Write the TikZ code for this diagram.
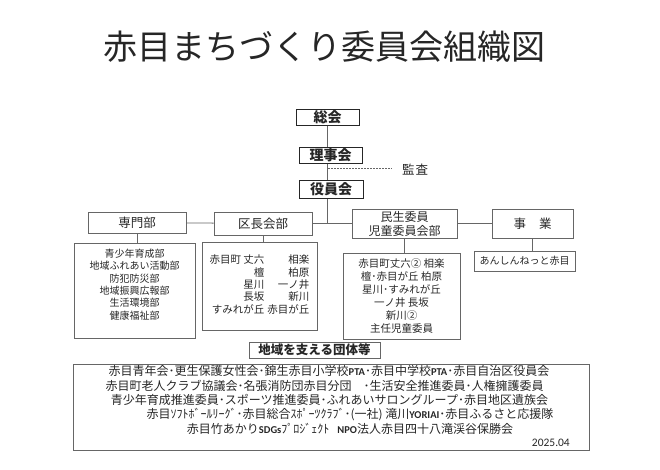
\documentclass[tikz,border=0pt]{standalone}
\usepackage{fontspec}
\setmainfont{Noto Sans CJK JP}
\newfontfamily\lat{Carlito}
\newcommand\fsz[2]{\fontsize{#1}{#2}\selectfont}
\newcommand\latb[1]{{\lat\bfseries\fsz{10.5}{14}#1}}

\begin{document}
\begin{tikzpicture}[
  x=1pt, y=-1pt,
  every node/.style={inner sep=0pt, text=black!85},
  topbox/.style={draw=black!85, line width=1pt, font=\fsz{14}{16}\bfseries},
  bukai/.style={draw=black!60, line width=0.8pt, align=center, font=\fsz{12.5}{14}},
  listbox/.style={draw=black!60, line width=0.8pt, align=center},
  conn/.style={draw=black!60, line width=0.8pt}
]
\useasboundingbox (0,0) rectangle (660,469);
\node (title) at (324,47) {\fsz{34}{40}赤目まちづくり委員会組織図};

% top of the tree
\node[topbox, minimum width=63, minimum height=16] (soukai) at (327.5,117) {総会};
\node[topbox, minimum width=63, minimum height=16] (rijikai) at (330.5,155) {理事会};
\node[topbox, minimum width=64, minimum height=18] (yakuinkai) at (331,189) {役員会};
\node[font=\fsz{12.5}{14}] (kansa) at (415,170) {監\hspace{1pt}査};
\coordinate (kansaj) at (328,168);
\draw[conn] (soukai.south) -- (soukai.south |- rijikai.north);
\draw[conn] (soukai.south |- rijikai.south) -- (soukai.south |- yakuinkai.north);
\draw[conn, dash pattern=on 1.5pt off 1.5pt] (kansaj) -- (392,168);

% bukai row
\node[bukai, minimum width=98, minimum height=21] (senmon) at (137,222.5) {専門部};
\node[bukai, minimum width=98, minimum height=23] (kuchou) at (263,223.5) {区長会部};
\node[bukai, minimum width=105, minimum height=29, font=\fsz{12}{14}] (minsei) at (404.5,223.5) {民生委員\\児童委員会部};
\node[bukai, minimum width=81, minimum height=29] (jigyou) at (532.5,223.5) {事\hspace{13pt}業};
\draw[conn] (senmon) -- (kuchou);
\draw[conn] (kuchou) -- (minsei);
\draw[conn] (minsei) -- (jigyou);
\draw[conn] (soukai.south |- yakuinkai.south) -- (soukai.south |- kuchou.east);

% lists under each bukai
\node[listbox, minimum width=121, minimum height=95] (senmonka) at (134.5,290.5) {};
\node[align=center, font=\fsz{10}{12.4}] (senmontxt) at (134.5,284.5)
  {青少年育成部\\地域ふれあい活動部\\防犯防災部\\地域振興広報部\\生活環境部\\健康福祉部};
\node[listbox, minimum width=115, minimum height=88, font=\fsz{10.5}{12}] (kuchouka) at (259.5,286)
  {\begin{tabular}{@{}r@{\hspace{3pt}}r@{}}
    赤目町 丈六 & 相楽\\ 檀 & 柏原\\ 星川 & 一ノ井\\ 長坂 & 新川\\ すみれが丘 & 赤目が丘
  \end{tabular}};
\node[listbox, minimum width=117, minimum height=86, font=\fsz{10.5}{13}] (minseika) at (401.5,296)
  {赤目町丈六② 相楽\\檀･赤目が丘 柏原\\星川･すみれが丘\\一ノ井 長坂\\新川②\\主任児童委員};
\node[listbox, minimum width=101, minimum height=20, font=\fsz{10}{12}] (jigyouka) at (524.5,261) {あんしんねっと赤目};
\draw[conn] (senmon.south) -- (senmon.south |- senmonka.north);
\draw[conn] (kuchou.south) -- (kuchou.south |- kuchouka.north);
\draw[conn] (minsei.south) -- (minsei.south |- minseika.north);
\draw[conn] (jigyou.south) -- (jigyou.south |- jigyouka.north);

% groups that support the area
\node[listbox, minimum width=131, minimum height=16, font=\fsz{12.5}{14}\bfseries] (dantai) at (314.5,350) {地域を支える団体等};
\node[listbox, minimum width=516, minimum height=86] (dantaika) at (331,407) {};
\node[font=\fsz{12}{14}] (dantai1) at (329,371) {赤目青年会･更生保護女性会･錦生赤目小学校\latb{PTA}･赤目中学校\latb{PTA}･赤目自治区役員会};
\node[font=\fsz{12}{14}] (dantai2) at (324.5,386) {赤目町老人クラブ協議会･名張消防団赤目分団　･生活安全推進委員･人権擁護委員};
\node[font=\fsz{12}{14}] (dantai3) at (329.5,400) {青少年育成推進委員･スポーツ推進委員･ふれあいサロングループ･赤目地区遺族会};
\node[font=\fsz{12}{14}] (dantai4) at (350,415) {赤目ｿﾌﾄﾎﾞｰﾙﾘｰｸﾞ･赤目総合ｽﾎﾟｰﾂｸﾗﾌﾞ･(一社) 滝川\latb{YORIAI}･赤目ふるさと応援隊};
\node[font=\fsz{12}{14}] (dantai5) at (350,429) {赤目竹あかり\latb{SDGs}ﾌﾟﾛｼﾞｪｸﾄ\hspace{8pt}\latb{NPO}法人赤目四十八滝渓谷保勝会};
\node[anchor=east, font=\lat\fsz{11.5}{13}] (nengetsu) at (570,443) {2025.04};
\end{tikzpicture}
\end{document}
